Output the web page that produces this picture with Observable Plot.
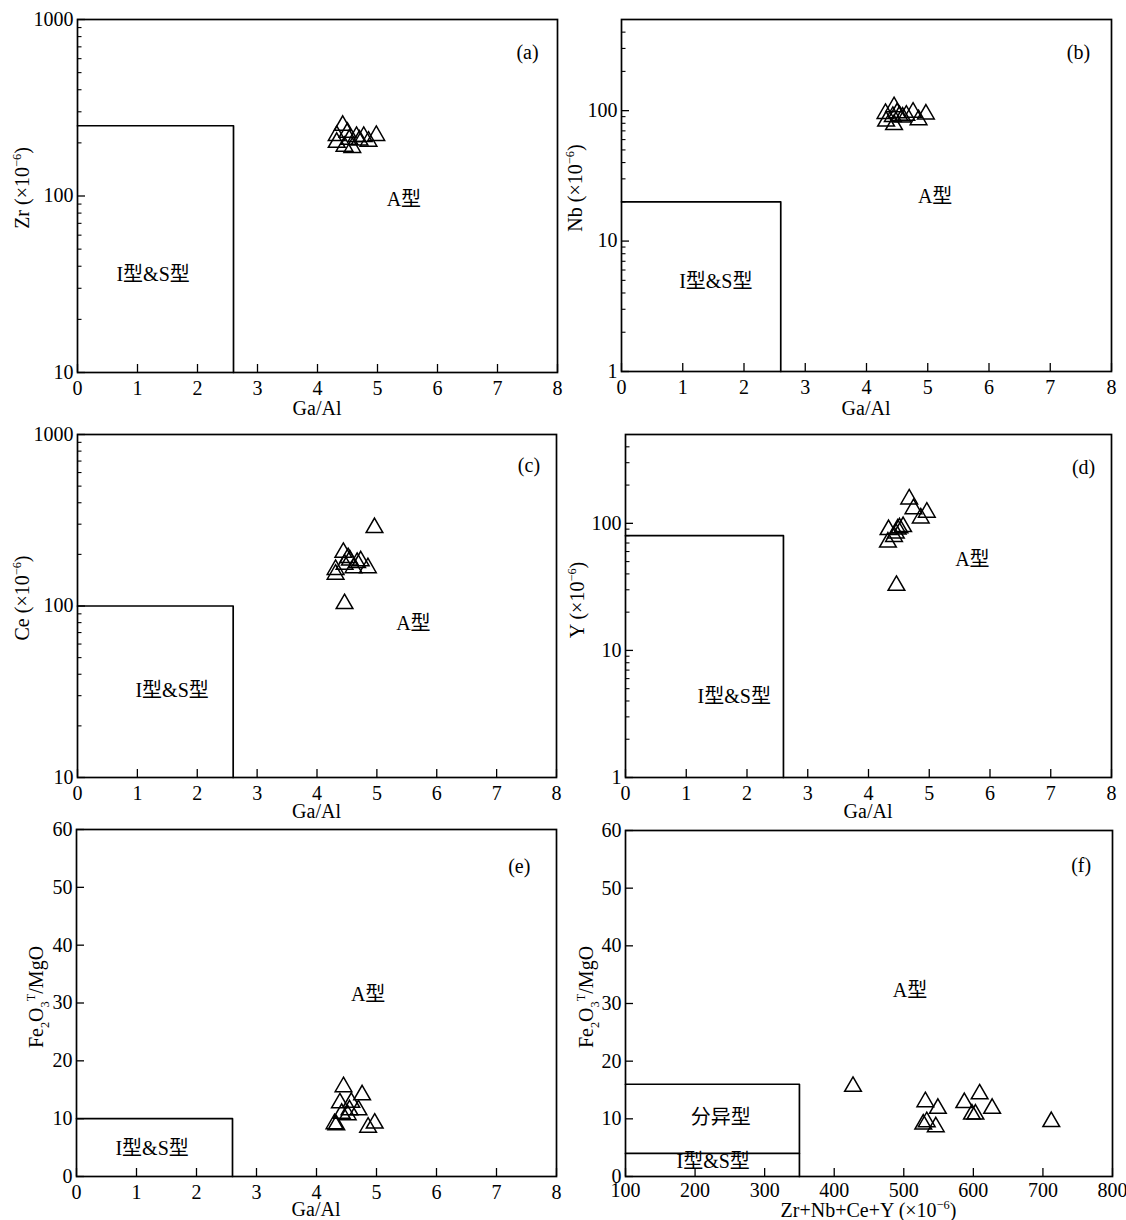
<!DOCTYPE html>
<html>
<head>
<meta charset="utf-8">
<script src="https://cdn.jsdelivr.net/npm/d3@7"></script>
<script src="https://cdn.jsdelivr.net/npm/@observablehq/plot@0.6"></script>
<style>
  body { margin: 0; background: #fff; }
  #chart { position: relative; width: 1126px; height: 1220px; background: #fff; }
  #chart svg { position: absolute; overflow: visible; }
</style>
</head>
<body>
<div id="chart"></div>
<script>
// ---- Sample data: Ga/Al (×10^4) against discriminant elements ----
// (a) Ga/Al vs Zr (×10⁻⁶)
const gaAlA = [4.42, 4.50, 4.32, 4.65, 4.77, 4.98, 4.85, 4.32, 4.45, 4.58, 4.70, 4.53];
const zrA   = [251, 229, 220, 217, 217, 220, 204, 201, 191, 188, 207, 209];
// (b) Ga/Al vs Nb (×10⁻⁶)
const gaAlB = [4.45, 4.31, 4.54, 4.76, 4.97, 4.85, 4.32, 4.45, 4.59, 4.43, 4.65, 4.50];
const nbB   = [107, 95, 91.5, 97, 94, 85, 83, 78, 89, 90, 92, 96];
// (c) Ga/Al vs Ce (×10⁻⁶)
const gaAlC = [4.96, 4.46, 4.44, 4.52, 4.73, 4.85, 4.61, 4.31, 4.31, 4.46, 4.67, 4.55];
const ceC   = [286, 103, 205, 191, 183, 167, 167, 163, 153, 175, 179, 185];
// (d) Ga/Al vs Y (×10⁻⁶)
const gaAlD = [4.67, 4.74, 4.96, 4.86, 4.57, 4.51, 4.33, 4.45, 4.42, 4.32, 4.46, 4.48];
const yD    = [155, 130, 122, 110, 94, 92, 89, 83.5, 78.6, 71, 32.4, 90];
// (e) Ga/Al vs Fe2O3T/MgO
const gaAlE = [4.45, 4.76, 4.39, 4.58, 4.70, 4.42, 4.52, 4.33, 4.30, 4.97, 4.86, 4.55];
const feMgE = [15.5, 14.1, 12.7, 12.8, 11.5, 10.9, 10.65, 8.9, 9.1, 9.2, 8.5, 11.5];
// (f) Zr+Nb+Ce+Y (×10⁻⁶) vs Fe2O3T/MgO
const sumF  = [427, 531, 549, 528, 533, 546, 587, 598, 603, 609, 627, 712];
const feMgF = [15.6, 12.95, 11.8, 9.06, 9.47, 8.6, 12.8, 10.8, 10.8, 14.3, 11.8, 9.5];

// ---- Field boundaries ----
const boundaryA = [[0, 250], [2.6, 250], [2.6, 10]];
const boundaryB = [[0, 20], [2.6, 20], [2.6, 1]];
const boundaryC = [[0, 100], [2.6, 100], [2.6, 10]];
const boundaryD = [[0, 80], [2.6, 80], [2.6, 1]];
const boundaryE = [[0, 10], [2.6, 10], [2.6, 0]];
const boundaryF = [[100, 16], [350, 16], [350, 0]];
const boundaryF2 = [[100, 4], [350, 4]];

// ---- Field names and panel tags, anchored in data units ----
const labelsA = [[1.26, 36, "I型&S型"], [5.44, 95, "A型"], [7.5, 653, "(a)"]];
const labelsB = [[1.54, 4.9, "I型&S型"], [5.12, 22, "A型"], [7.46, 281, "(b)"]];
const labelsC = [[1.58, 32, "I型&S型"], [5.61, 79, "A型"], [7.54, 655, "(c)"]];
const labelsD = [[1.79, 4.3, "I型&S型"], [5.71, 51.5, "A型"], [7.54, 275, "(d)"]];
const labelsE = [[1.26, 4.9, "I型&S型"], [4.86, 31.5, "A型"], [7.38, 53.5, "(e)"]];
const labelsF = [[237, 10.3, "分异型"], [226, 2.5, "I型&S型"], [509, 32.3, "A型"], [755, 54, "(f)"]];

// ---- Tick values ----
const gaAlTicks = [0, 1, 2, 3, 4, 5, 6, 7, 8];
const sumTicks = [100, 200, 300, 400, 500, 600, 700, 800];
const ratioTicks = [0, 10, 20, 30, 40, 50, 60];
const logTicks10to1000 = [10, 100, 1000];
const logTicks1to500 = [1, 10, 100];
const minor10to1000 = [20, 30, 40, 50, 60, 70, 80, 90, 200, 300, 400, 500, 600, 700, 800, 900];
const minor1to500 = [2, 3, 4, 5, 6, 7, 8, 9, 20, 30, 40, 50, 60, 70, 80, 90, 200, 300, 400];

// Axis titles as runs of [text, kind]; kind is "", "sup" or "sub"
const titleGaAl = [["Ga/Al", ""]];
const titleZr = [["Zr (×10", ""], ["−6", "sup"], [")", ""]];
const titleNb = [["Nb (×10", ""], ["−6", "sup"], [")", ""]];
const titleCe = [["Ce (×10", ""], ["−6", "sup"], [")", ""]];
const titleY = [["Y (×10", ""], ["−6", "sup"], [")", ""]];
const titleFeMg = [["Fe", ""], ["2", "sub"], ["O", ""], ["3", "sub"], ["T", "sup"], ["/MgO", ""]];
const titleSum = [["Zr+Nb+Ce+Y (×10", ""], ["−6", "sup"], [")", ""]];

const FONT = `"Liberation Serif", "Times New Roman", "Noto Sans CJK SC", serif`;
const FS = 20;

// Render mark drawing a title centred on (cx, cy) with super/subscript runs
function titleMark(runs, cx, cy, rotate = 0) {
  return () => {
    const g = d3.create("svg:g");
    const t = g.append("text")
      .attr("transform", `translate(${cx},${cy}) rotate(${rotate})`)
      .attr("text-anchor", "middle")
      .attr("fill", "black")
      .attr("font-size", FS);
    let shift = -0.35 * FS; // start so the glyphs sit centred on the anchor
    for (const [s, kind] of runs) {
      const target = kind === "sup" ? -0.42 * FS : kind === "sub" ? 0.28 * FS : 0;
      const ts = t.append("tspan").text(s).attr("dy", target - shift);
      if (kind) ts.attr("font-size", FS * 0.62);
      shift = target;
    }
    return g.node();
  };
}

function panel(cfg) {
  const {left, top, width, height} = cfg;
  const [mt, mr, mb, ml] = cfg.margins;
  const fw = width - ml - mr, fh = height - mt - mb;
  const pts = cfg.xs.map((v, i) => [v, cfg.ys[i]]);
  const marks = [
    Plot.tickX(cfg.xTickMarks, {x: d => d, insetTop: fh - 8, stroke: "black", strokeWidth: 1.3}),
    Plot.tickY(cfg.yTickMarks, {y: d => d, insetRight: fw - 8, stroke: "black", strokeWidth: 1.3}),
    Plot.tickY(cfg.yMinor || [], {y: d => d, insetRight: fw - 4.5, stroke: "black", strokeWidth: 1.1}),
    ...cfg.boundaries.map(b => Plot.line(b, {x: d => d[0], y: d => d[1], stroke: "black", strokeWidth: 1.7})),
    Plot.dot(pts, {x: d => d[0], y: d => d[1], symbol: "triangle", r: 6.2, stroke: "black", strokeWidth: 1.5, fill: "none"}),
    Plot.text(cfg.labels, {x: d => d[0], y: d => d[1], text: d => d[2], fontSize: FS, fill: "black"}),
    Plot.frame({stroke: "black", strokeWidth: 1.7}),
    titleMark(cfg.xTitle, ml + fw / 2, mt + fh + cfg.xTitleOffset),
    titleMark(cfg.yTitle, ml - cfg.yTitleOffset, cfg.yTitleY - top, -90)
  ];
  const svg = Plot.plot({
    width, height,
    marginTop: mt, marginRight: mr, marginBottom: mb, marginLeft: ml,
    style: {fontFamily: FONT, fontSize: FS + "px", color: "black", background: "transparent", overflow: "visible"},
    x: {domain: cfg.xDomain, ticks: cfg.xTicks, tickSize: 0, tickPadding: cfg.xTickPadding ?? 8, tickFormat: d => String(d), label: null},
    y: {type: cfg.yType, domain: cfg.yDomain, ticks: cfg.yTicks, tickSize: 0, tickPadding: 4, tickFormat: d => String(d), label: null},
    marks
  });
  svg.style.left = left + "px";
  svg.style.top = top + "px";
  document.getElementById("chart").appendChild(svg);
}

const W = 563;

panel({left: 0, top: 0, width: W, height: 420, margins: [19, 6, 48, 77],
  xs: gaAlA, ys: zrA, xDomain: [0, 8], xTicks: gaAlTicks, xTickMarks: gaAlTicks,
  yType: "log", yDomain: [10, 1000], yTicks: logTicks10to1000, yTickMarks: logTicks10to1000, yMinor: minor10to1000,
  boundaries: [boundaryA], labels: labelsA,
  xTitle: titleGaAl, xTitleOffset: 36, yTitle: titleZr, yTitleOffset: 55, yTitleY: 188});

panel({left: W, top: 0, width: W, height: 420, margins: [19, 15, 49, 58],
  xs: gaAlB, ys: nbB, xDomain: [0, 8], xTicks: gaAlTicks, xTickMarks: gaAlTicks,
  yType: "log", yDomain: [1, 500], yTicks: logTicks1to500, yTickMarks: logTicks1to500, yMinor: minor1to500,
  boundaries: [boundaryB], labels: labelsB,
  xTitle: titleGaAl, xTitleOffset: 37, yTitle: titleNb, yTitleOffset: 46, yTitleY: 188});

panel({left: 0, top: 420, width: W, height: 400, margins: [14, 7, 43, 77],
  xs: gaAlC, ys: ceC, xDomain: [0, 8], xTicks: gaAlTicks, xTickMarks: gaAlTicks,
  yType: "log", yDomain: [10, 1000], yTicks: logTicks10to1000, yTickMarks: logTicks10to1000, yMinor: minor10to1000,
  boundaries: [boundaryC], labels: labelsC,
  xTitle: titleGaAl, xTitleOffset: 34, yTitle: titleCe, yTitleOffset: 55, yTitleY: 598});

panel({left: W, top: 420, width: W, height: 400, margins: [14, 15, 43, 62],
  xs: gaAlD, ys: yD, xDomain: [0, 8], xTicks: gaAlTicks, xTickMarks: gaAlTicks,
  yType: "log", yDomain: [1, 500], yTicks: logTicks1to500, yTickMarks: logTicks1to500, yMinor: minor1to500,
  boundaries: [boundaryD], labels: labelsD,
  xTitle: titleGaAl, xTitleOffset: 34, yTitle: titleY, yTitleOffset: 48, yTitleY: 600});

panel({left: 0, top: 820, width: W, height: 400, margins: [9, 7, 44, 76],
  xs: gaAlE, ys: feMgE, xDomain: [0, 8], xTicks: gaAlTicks, xTickMarks: gaAlTicks,
  yType: "linear", yDomain: [0, 60], yTicks: ratioTicks, yTickMarks: ratioTicks,
  boundaries: [boundaryE], labels: labelsE,
  xTitle: titleGaAl, xTitleOffset: 33, yTitle: titleFeMg, yTitleOffset: 40, yTitleY: 997});

panel({left: W, top: 820, width: W, height: 400, margins: [10, 14, 44, 62],
  xs: sumF, ys: feMgF, xDomain: [100, 800], xTicks: sumTicks, xTickMarks: sumTicks, xTickPadding: 6,
  yType: "linear", yDomain: [0, 60], yTicks: ratioTicks, yTickMarks: ratioTicks,
  boundaries: [boundaryF, boundaryF2], labels: labelsF,
  xTitle: titleSum, xTitleOffset: 34, yTitle: titleFeMg, yTitleOffset: 39, yTitleY: 997});
</script>
</body>
</html>
